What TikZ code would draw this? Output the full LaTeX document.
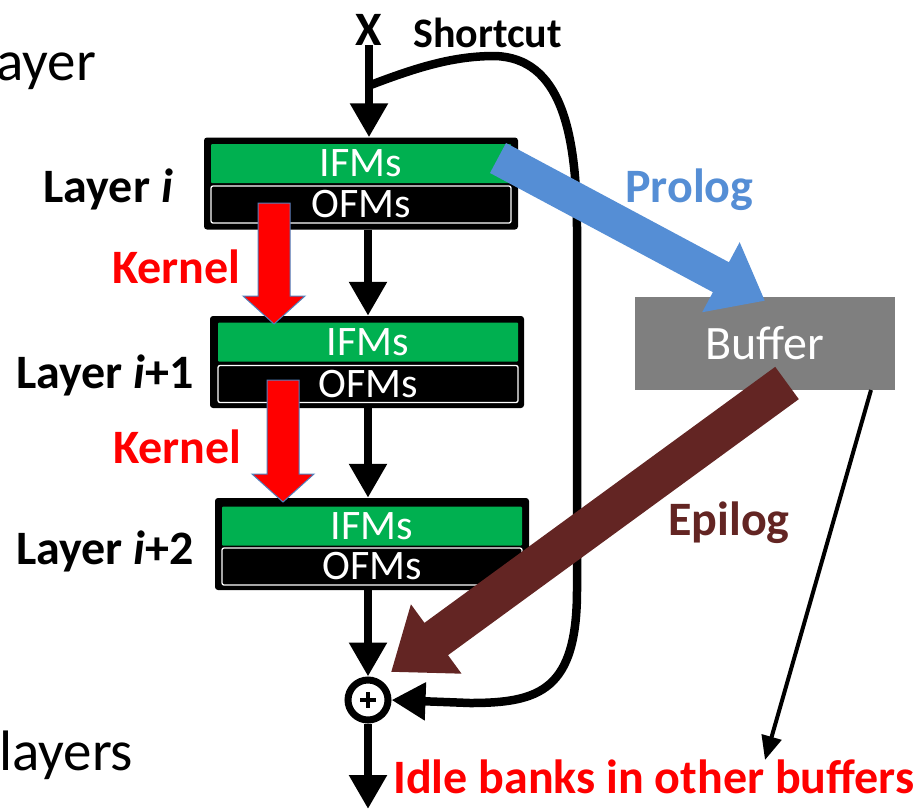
\documentclass[tikz,border=0pt]{standalone}
\usepackage{fontspec}
\setmainfont{Carlito}
\usetikzlibrary{arrows.meta,calc}
\definecolor{ifmgreen}{HTML}{00B050}
\definecolor{prologblue}{HTML}{558ED5}
\definecolor{epilogbrown}{HTML}{632523}
\definecolor{buffergray}{HTML}{7F7F7F}
\definecolor{kernred}{HTML}{FF0000}
\definecolor{kernedge}{HTML}{4F81BD}
\begin{document}
\begin{tikzpicture}[x=1pt,y=-1pt,
  big/.style={font=\fontsize{48}{52}\selectfont\bfseries, inner sep=0},
  huge/.style={font=\fontsize{57}{62}\selectfont, inner sep=0},
  layerbox/.style={fill=black, rounded corners=3pt, minimum width=314pt, minimum height=92pt, inner sep=0},
  ifm/.style={fill=ifmgreen, text=white, minimum width=300pt, minimum height=39pt, inner sep=0,
     font=\fontsize{42}{42}\selectfont, rounded corners=1pt},
  ofm/.style={fill=black, draw=white, line width=1.3pt, text=white, minimum width=300pt, minimum height=37pt,
     inner sep=0, font=\fontsize{42}{42}\selectfont, rounded corners=2pt},
  blk/.style={line width=8.5pt, -{Triangle[width=36pt,length=34pt]}},
  kern/.style={fill=kernred, draw=kernedge, line width=1pt, line join=miter},
]
\useasboundingbox (0,0) rectangle (920,809);

% partial slide text
\node[huge, anchor=base east] (ayer) at (96,80) {ayer};
\node[huge, anchor=base west] (layers) at (-1,770) {layers};

% layer boxes
\node[layerbox] (L1) at (361,183.5) {};
\node[ifm] (I1) at (361,163.5) {IFMs};
\node[ofm] (O1) at (361,204.5) {OFMs};

\node[layerbox] (L2) at (367,362) {};
\node[ifm] (I2) at (368,342) {IFMs};
\node[ofm] (O2) at (368,384) {OFMs};

\node[layerbox] (L3) at (372,544) {};
\node[ifm] (I3) at (372,526) {IFMs};
\node[ofm] (O3) at (372,566.5) {OFMs};

% labels
\node[big, anchor=base east] (t1) at (173,202) {Layer \textit{i}};
\node[big, anchor=base east] (t2) at (194,388) {Layer \textit{i}+1};
\node[big, anchor=base east] (t3) at (194,564) {Layer \textit{i}+2};
\node[big, text=kernred, anchor=base west] (k1) at (112,283) {Kernel};
\node[big, text=kernred, anchor=base west] (k2) at (113,463) {Kernel};
\node[big, anchor=base] (X) at (369,45) {X};
\node[font=\fontsize{42}{44}\selectfont\bfseries, inner sep=0, anchor=base west] (sc) at (413,47) {Shortcut};
\node[big, text=prologblue, anchor=base west] (pro) at (625,202) {Prolog};
\node[big, text=epilogbrown, anchor=base west] (epi) at (668,535) {Epilog};
\node[big, text=kernred, anchor=base west] (idle) at (393,793) {Idle banks in other buffers};

% buffer
\node[fill=buffergray, minimum width=260pt, minimum height=93pt, inner sep=0, text=white,
      font=\fontsize{48}{52}\selectfont] (buf) at (765,343.5) {Buffer};

% sum node
\node[circle, draw=black, fill=white, line width=7pt, minimum size=40pt, inner sep=0] (plus) at (368,700) {};
\draw[line width=3.5pt] ($(plus.center)+(-8,0)$) -- ($(plus.center)+(8,0)$);
\draw[line width=3.5pt] ($(plus.center)+(0,-8)$) -- ($(plus.center)+(0,8)$);

% main data path
\coordinate (sc0) at (368,86);
\draw[blk] (X.south) -- (L1.north -| X.south);
\draw[blk] (L1.south -| plus.center) -- (L2.north -| plus.center);
\draw[blk] (L2.south -| plus.center) -- (L3.north -| plus.center);
\draw[blk] (L3.south -| plus.center) -- (plus.north);
\coordinate (out) at (368,809);
\draw[blk] (plus.south) -- (out);

% shortcut
\draw[blk] (sc0) .. controls (420,66) and (455,56) .. (495,56)
   .. controls (560,58) and (577,130) .. (577,230)
   -- (577,590) .. controls (577,690) and (540,703) .. (470,703)
   -- (plus.east);

% kernel block arrows
\coordinate (k1top) at (274,203);
\coordinate (k1tip) at (274,324);
\filldraw[kern] ($(k1top)+(-16,0)$) -- ($(k1top)+(16,0)$) -- ($(k1tip)+(16,-28)$) -- ($(k1tip)+(31,-28)$)
   -- (k1tip) -- ($(k1tip)+(-31,-28)$) -- ($(k1tip)+(-16,-28)$) -- cycle;
\coordinate (k2top) at (283,380);
\coordinate (k2tip) at (283,502);
\filldraw[kern] ($(k2top)+(-16,0)$) -- ($(k2top)+(16,0)$) -- ($(k2tip)+(16,-28)$) -- ($(k2tip)+(31,-28)$)
   -- (k2tip) -- ($(k2tip)+(-31,-28)$) -- ($(k2tip)+(-16,-28)$) -- cycle;

% prolog / epilog
\coordinate (ps) at (498,158);
\draw[line width=34pt, prologblue, -{Triangle[width=76pt,length=50pt]}] (ps) -- ($(buf.north)+(0,4)$);
\coordinate (es) at (787,383);
\coordinate (et) at (391,672);
\draw[line width=40pt, epilogbrown, -{Triangle[width=82pt,length=56pt]}] (es) -- (et);

% buffer to idle banks
\coordinate (bs) at (871,390);
\coordinate (bt) at (765,760);
\draw[line width=4pt, -{Triangle[width=20pt,length=24pt]}] (bs) -- (bt);
\end{tikzpicture}
\end{document}
